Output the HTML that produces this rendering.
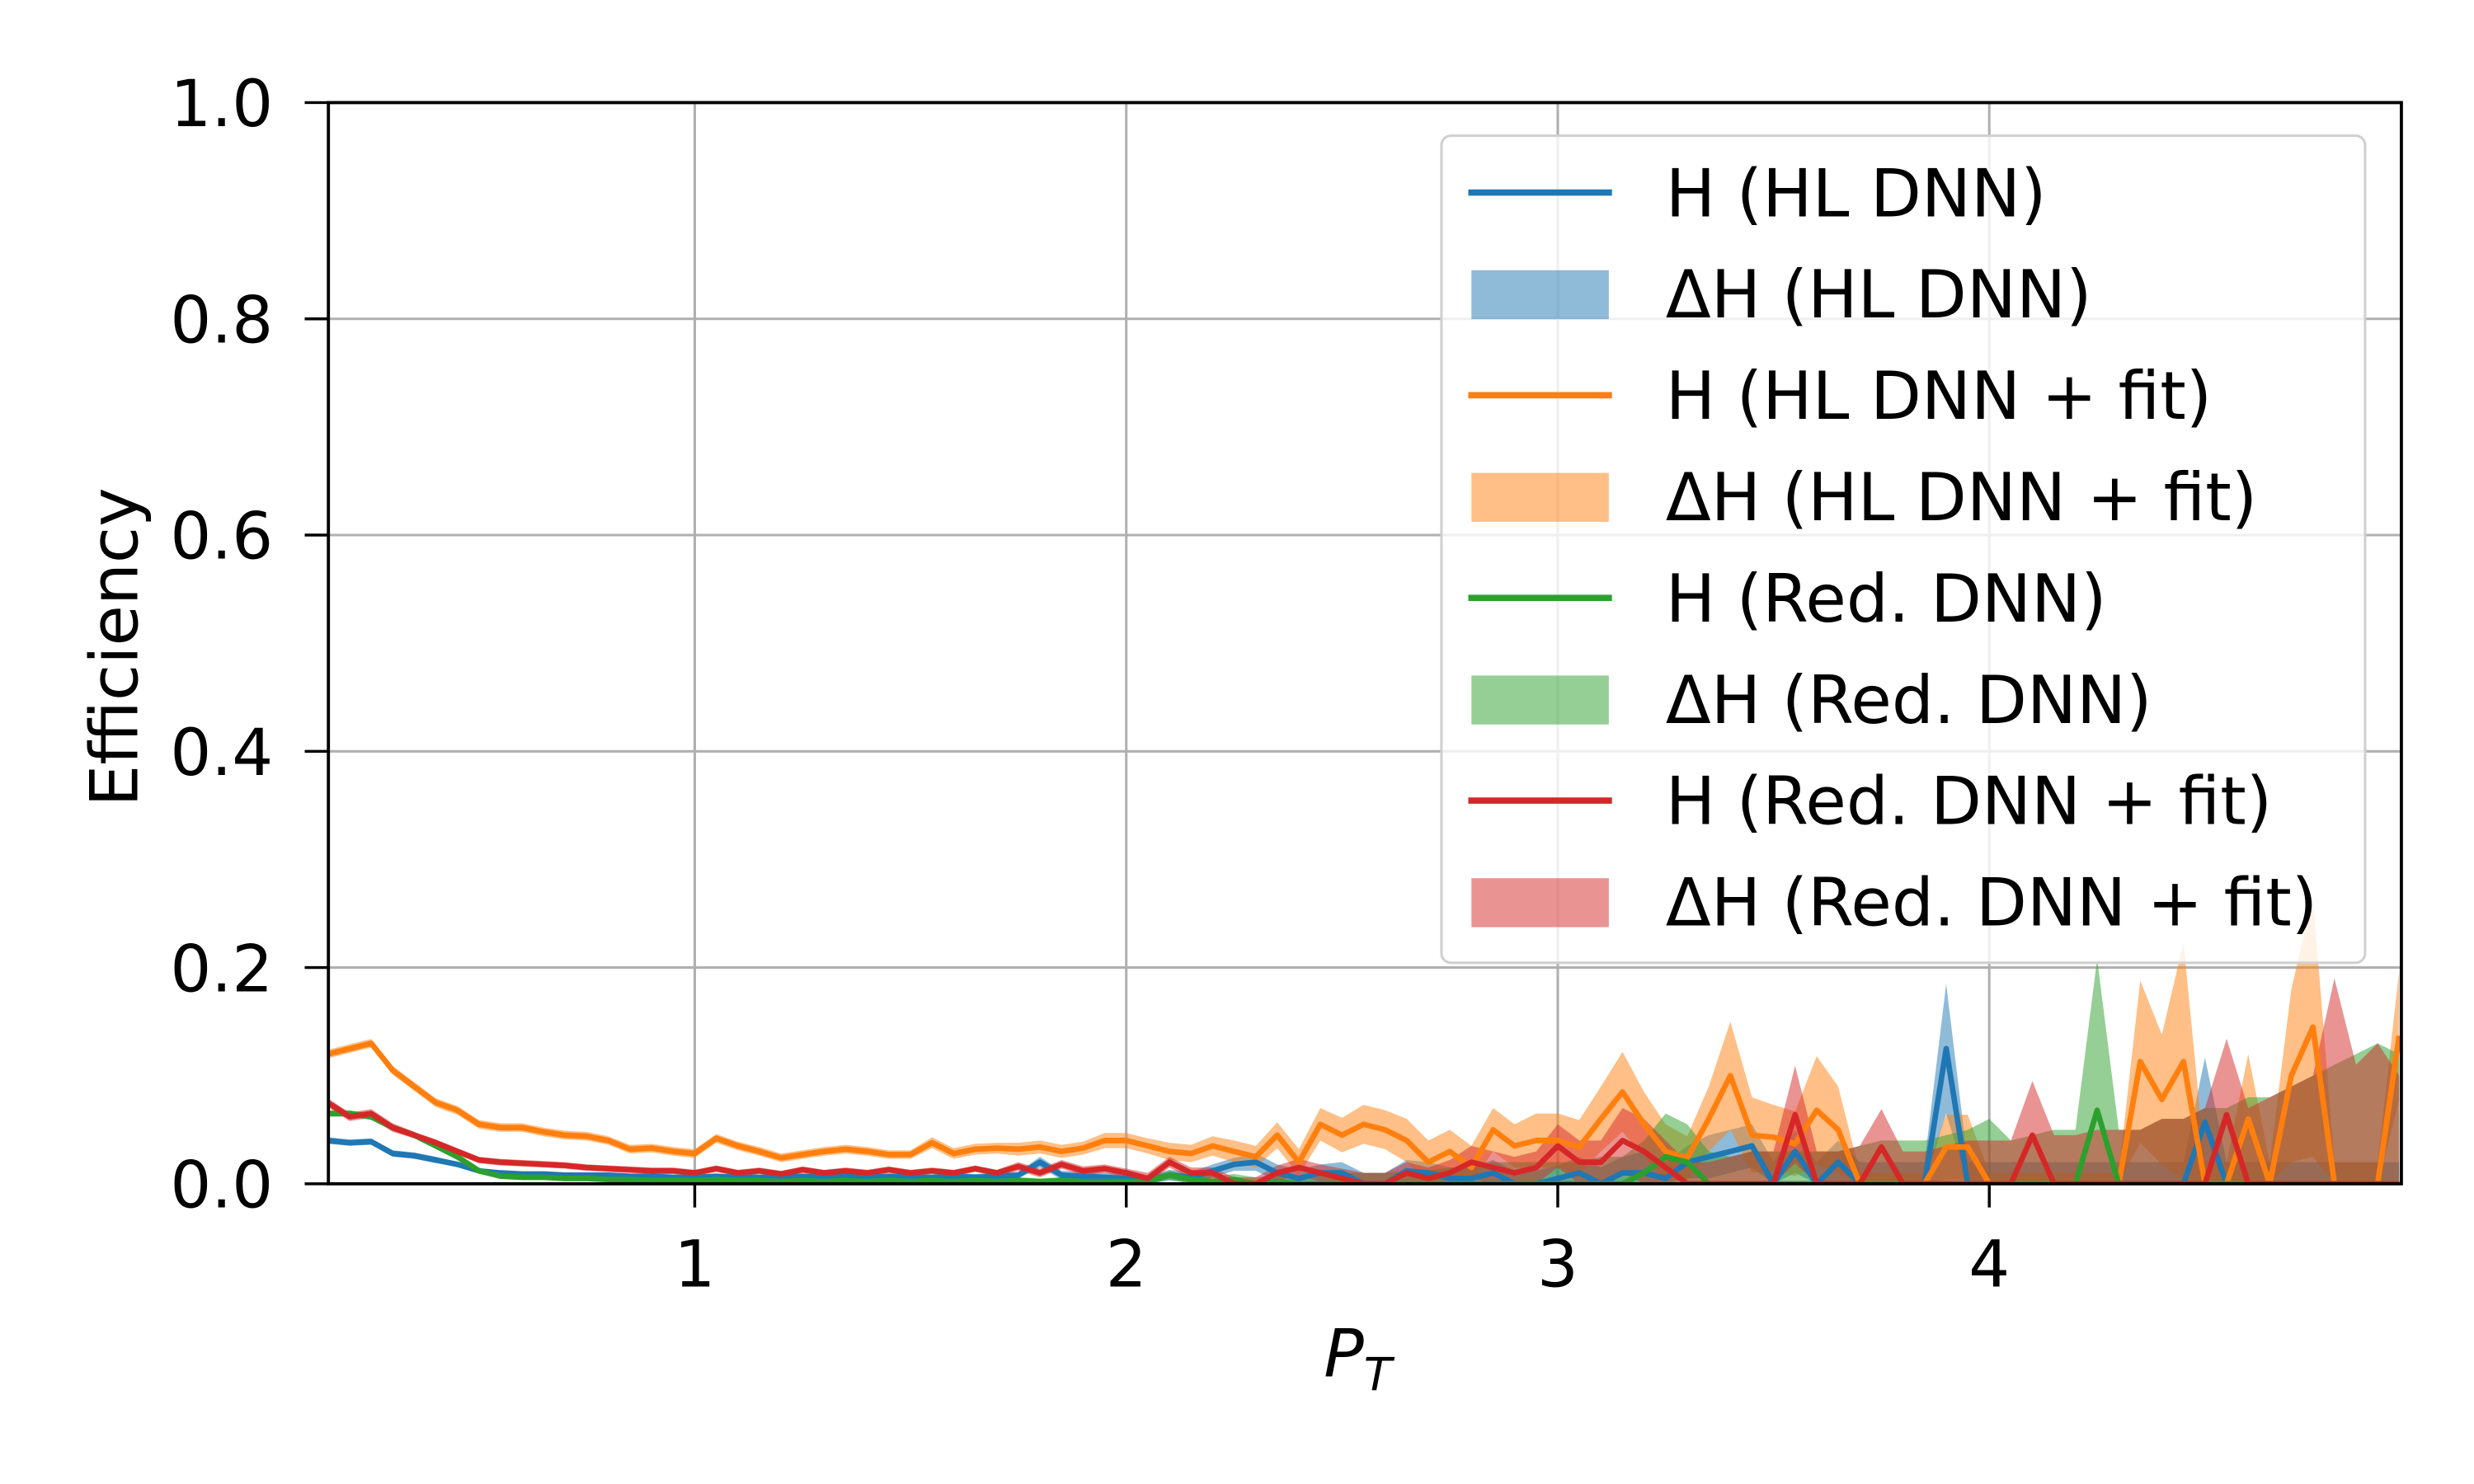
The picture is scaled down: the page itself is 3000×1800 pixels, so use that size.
<!DOCTYPE html>
<html><head><meta charset="utf-8"><style>
html,body{margin:0;padding:0;background:#fff}
svg{display:block}
text{font-family:"DejaVu Sans","Liberation Sans",sans-serif;fill:#000}
</style></head><body>
<svg id="chart" width="3000" height="1800" viewBox="0 0 1567 940.2" xmlns="http://www.w3.org/2000/svg">
<g id="grid"></g>
<g id="fills"></g>
<g id="lines"></g>
<rect x="208" y="65" width="1313" height="685" fill="none" stroke="#000" stroke-width="2"/>
<g id="ticks"></g>
<text x="860" y="872" font-size="42" text-anchor="middle" font-style="italic">P<tspan font-size="29" dy="9">T</tspan></text>
<text transform="translate(87,410) rotate(-90)" font-size="42" text-anchor="middle">Efficiency</text>
<g id="legend"></g>
</svg>
<script>
const X0 = 0.15, STEP = 0.05;
const xTicks = [1, 2, 3, 4];
const yTicks = [0, 0.2, 0.4, 0.6, 0.8, 1.0];
const yTickLabels = ["0.0", "0.2", "0.4", "0.6", "0.8", "1.0"];
const seriesNames = ["H (HL DNN)", "H (HL DNN + fit)", "H (Red. DNN)", "H (Red. DNN + fit)"];
const bandNames = ["ΔH (HL DNN)", "ΔH (HL DNN + fit)", "ΔH (Red. DNN)", "ΔH (Red. DNN + fit)"];
const hlVals = [0.04,0.038,0.039,0.028,0.026,0.022,0.018,0.012,0.01,0.009,
0.009,0.008,0.008,0.008,0.007,0.007,0.006,0.006,0.007,0.006,
0.006,0.006,0.007,0.006,0.007,0.006,0.007,0.006,0.006,0.007,
0.006,0.007,0.008,0.02,0.008,0.007,0.006,0.005,0.003,0.008,
0.006,0.012,0.018,0.02,0.01,0.005,0.01,0.01,0.0,0.0,
0.012,0.01,0.005,0.005,0.01,0.0,0.0,
0.005,0.01,0.0,0.01,0.01,0.005,0.02,0.025,0.03,0.035,
0.0,0.03,0.0,0.02,0.0,0.0,0.0,0.0,0.125,0.0,
0.0,0.0,0.0,0.0,0.0,0.0,0.0,0.0,0.0,0.0,
0.057,0.0,0.0,0.0,0.0,0.0,0.0,0.0,0.0,0.0];
const hlErr = [0.003,0.003,0.003,0.003,0.003,0.003,0.002,0.002,0.002,0.002,
0.002,0.002,0.002,0.002,0.002,0.002,0.002,0.002,0.002,0.002,
0.002,0.002,0.002,0.002,0.002,0.002,0.002,0.002,0.002,0.003,
0.003,0.003,0.003,0.005,0.004,0.004,0.004,0.004,0.004,0.005,
0.005,0.006,0.006,0.008,0.008,0.008,0.008,0.01,0.01,0.01,
0.01,0.01,0.01,0.01,0.012,0.012,0.012,
0.012,0.015,0.015,0.015,0.02,0.015,0.015,0.02,0.02,0.02,
0.02,0.02,0.02,0.02,0.02,0.02,0.02,0.02,0.06,0.02,
0.02,0.02,0.02,0.02,0.02,0.02,0.02,0.02,0.02,0.02,
0.06,0.02,0.02,0.02,0.02,0.02,0.02,0.02,0.02,0.02];
const hlFitVals = [0.12,0.125,0.13,0.105,0.09,0.075,0.068,0.055,0.052,0.052,
0.048,0.045,0.044,0.04,0.032,0.033,0.03,0.028,0.042,0.035,
0.03,0.024,0.027,0.03,0.032,0.03,0.027,0.027,0.038,0.028,
0.032,0.033,0.032,0.034,0.03,0.033,0.04,0.04,0.035,0.03,
0.028,0.035,0.03,0.025,0.045,0.02,0.055,0.045,0.055,0.05,
0.04,0.02,0.03,0.015,0.05,0.035,0.04,
0.04,0.034,0.06,0.085,0.055,0.03,0.024,0.06,0.1,0.045,
0.043,0.037,0.068,0.05,0,0,0,0,0.034,0.034,
0,0,0,0,0,0,0,0.113,0.078,0.113,
0,0,0.06,0,0.1,0.145,0,0,0,0.137];
const hlFitErr = [0.004,0.004,0.004,0.004,0.004,0.004,0.004,0.004,0.004,0.004,
0.004,0.004,0.004,0.004,0.004,0.004,0.004,0.004,0.004,0.004,
0.004,0.004,0.004,0.004,0.004,0.004,0.004,0.004,0.005,0.005,
0.005,0.005,0.006,0.006,0.006,0.006,0.007,0.007,0.007,0.008,
0.008,0.009,0.01,0.01,0.012,0.012,0.015,0.016,0.018,0.018,
0.02,0.02,0.02,0.02,0.02,0.02,0.025,
0.025,0.025,0.03,0.037,0.03,0.025,0.02,0.03,0.05,0.035,
0.03,0.03,0.05,0.04,0.01,0.01,0.01,0.01,0.03,0.03,
0.01,0.01,0.01,0.01,0.01,0.01,0.01,0.075,0.06,0.11,
0.02,0.02,0.06,0.02,0.08,0.12,0.02,0.02,0.02,0.06];
const redVals = [0.065,0.065,0.062,0.052,0.045,0.035,0.025,0.012,0.007,0.006,
0.006,0.005,0.005,0.004,0.004,0.003,0.003,0.003,0.004,0.003,
0.003,0.002,0.003,0.002,0.003,0.002,0.003,0.002,0.003,0.002,
0.003,0.002,0.003,0.002,0.003,0.002,0.002,0.002,0.002,0.008,
0.004,0.002,0.004,0.0,0.002,0.0,0.0,0.0,0.0,0.0,
0.0,0.0,0.0,0.0,0.0,0.0,0.0,
0.0,0.0,0.0,0.0,0.01,0.025,0.02,0.0,0.0,0.0,
0.0,0.0,0.0,0.0,0.0,0.0,0.0,0.0,0.0,0.0,
0.0,0.0,0.0,0.0,0.0,0.068,0.0,0.0,0.0,0.0,
0.0,0.0,0.0,0.0,0.0,0.0,0.0,0.0,0.0,0.0];
const redErr = [0.003,0.003,0.003,0.003,0.003,0.003,0.003,0.003,0.002,0.002,
0.002,0.002,0.002,0.002,0.002,0.002,0.002,0.002,0.002,0.002,
0.002,0.002,0.002,0.002,0.002,0.002,0.002,0.002,0.002,0.002,
0.002,0.002,0.003,0.003,0.003,0.003,0.003,0.003,0.004,0.004,
0.004,0.005,0.005,0.006,0.006,0.007,0.008,0.01,0.01,0.01,
0.012,0.012,0.015,0.015,0.02,0.02,0.02,
0.02,0.02,0.025,0.025,0.03,0.04,0.035,0.03,0.025,0.03,
0.03,0.03,0.03,0.03,0.035,0.04,0.04,0.04,0.045,0.05,
0.06,0.04,0.045,0.05,0.05,0.14,0.05,0.05,0.06,0.06,
0.07,0.07,0.08,0.08,0.09,0.1,0.11,0.12,0.13,0.12];
const redFitVals = [0.075,0.062,0.065,0.052,0.045,0.038,0.03,0.022,0.02,0.019,
0.018,0.017,0.015,0.014,0.013,0.012,0.012,0.01,0.014,0.01,
0.012,0.009,0.013,0.01,0.012,0.01,0.013,0.01,0.012,0.01,
0.014,0.01,0.016,0.01,0.018,0.012,0.014,0.01,0.005,0.02,
0.01,0.01,0.0,0.0,0.01,0.015,0.01,0.005,0.0,0.0,
0.01,0.005,0.01,0.02,0.015,0.01,0.015,
0.035,0.02,0.02,0.04,0.03,0.015,0.0,0.0,0.0,0.0,
0.0,0.064,0.0,0.0,0.0,0.034,0.0,0.0,0.0,0.0,
0.0,0.0,0.045,0.0,0.0,0.0,0.0,0.0,0.0,0.0,
0.0,0.064,0.0,0.0,0.0,0.0,0.0,0.0,0.0,0.0];
const redFitErr = [0.004,0.004,0.004,0.004,0.003,0.003,0.003,0.003,0.003,0.003,
0.003,0.003,0.003,0.003,0.003,0.003,0.003,0.003,0.003,0.003,
0.003,0.003,0.003,0.003,0.003,0.003,0.003,0.003,0.003,0.003,
0.003,0.003,0.004,0.004,0.004,0.004,0.004,0.004,0.005,0.005,
0.005,0.005,0.006,0.006,0.007,0.008,0.008,0.009,0.01,0.01,
0.01,0.01,0.012,0.015,0.015,0.015,0.015,
0.02,0.02,0.02,0.03,0.03,0.025,0.02,0.02,0.025,0.03,
0.03,0.045,0.03,0.03,0.035,0.035,0.03,0.03,0.035,0.04,
0.04,0.04,0.05,0.045,0.045,0.05,0.05,0.05,0.06,0.06,
0.07,0.07,0.07,0.08,0.09,0.1,0.19,0.11,0.13,0.1];

const L=208,R=1521,T=65,B=750, XMIN=0.151, XMAX=4.955;
const xs = v => L + (v - XMIN) / (XMAX - XMIN) * (R - L);
const ys = v => B - v * (B - T);
const NS="http://www.w3.org/2000/svg";
function mk(tag, attrs, parent){const e=document.createElementNS(NS,tag);for(const k in attrs)e.setAttribute(k,attrs[k]);parent.appendChild(e);return e;}
const grid=document.getElementById('grid'), ticks=document.getElementById('ticks');
xTicks.forEach(t=>{
  const g=mk('line',{x1:xs(t),x2:xs(t),y1:T,y2:B,stroke:'#b0b0b0','stroke-width':1.6},grid);
  
  
  const tk=mk('line',{x1:xs(t),x2:xs(t),y1:B,y2:B+15,stroke:'#000','stroke-width':1.8},ticks);
  
  
  const lb=mk('text',{x:xs(t),y:B+65,'font-size':41,'text-anchor':'middle'},ticks);
  lb.textContent=String(t);
  
  
});
yTicks.forEach((t,i)=>{
  const g=mk('line',{x1:L,x2:R,y1:ys(t),y2:ys(t),stroke:'#b0b0b0','stroke-width':1.6},grid);
  
  
  const tk=mk('line',{x1:L-15,x2:L,y1:ys(t),y2:ys(t),stroke:'#000','stroke-width':1.8},ticks);
  
  
  const lb=mk('text',{x:L-35,y:ys(t)+15,'font-size':41,'text-anchor':'end'},ticks);
  lb.textContent=yTickLabels[i];
  
  
});
const colors=['#1f77b4','#ff7f0e','#2ca02c','#d62728'];
const vals=[hlVals,hlFitVals,redVals,redFitVals];
const errs=[hlErr,hlFitErr,redErr,redFitErr];
const fills=document.getElementById('fills'), lines=document.getElementById('lines');
const clip=mk('clipPath',{id:'pc'},document.getElementById('chart'));
mk('rect',{x:L,y:T,width:R-L,height:B-T},clip);
fills.setAttribute('clip-path','url(#pc)');
lines.setAttribute('clip-path','url(#pc)');
vals.forEach((v,s)=>{
  const e=errs[s];
  let up=[],lo=[];
  v.forEach((y,i)=>{const x=xs(X0+i*STEP);up.push(x.toFixed(1)+','+ys(y+e[i]).toFixed(1));lo.push(x.toFixed(1)+','+ys(Math.max(0,y-e[i])).toFixed(1));});
  const p=mk('polygon',{points:up.concat(lo.reverse()).join(' '),fill:colors[s],'fill-opacity':0.5,stroke:'none'},fills);
  
  
});
vals.forEach((v,s)=>{
  const pts=v.map((y,i)=>xs(X0+i*STEP).toFixed(1)+','+ys(y).toFixed(1)).join(' ');
  const l=mk('polyline',{points:pts,fill:'none',stroke:colors[s],'stroke-width':3.5,'stroke-linejoin':'round'},lines);
  
  
});
const leg=document.getElementById('legend');
const box=mk('rect',{x:913,y:86,width:585,height:524,rx:6,fill:'#fff','fill-opacity':0.8,stroke:'#d0d0d0','stroke-width':1.6},leg);


for(let i=0;i<8;i++){
  const s=Math.floor(i/2), y=122+i*64.2;
  if(i%2===0){
    const h=mk('line',{x1:930,x2:1021,y1:y,y2:y,stroke:colors[s],'stroke-width':4},leg);
    
    
  } else {
    const h=mk('rect',{x:932,y:y-15,width:87,height:31,fill:colors[s],'fill-opacity':0.5},leg);
    
    
  }
  const t=mk('text',{x:1055,y:y+15,'font-size':42},leg);
  t.textContent=i%2===0?seriesNames[s]:bandNames[s];
  
  
}
</script>
</body></html>
